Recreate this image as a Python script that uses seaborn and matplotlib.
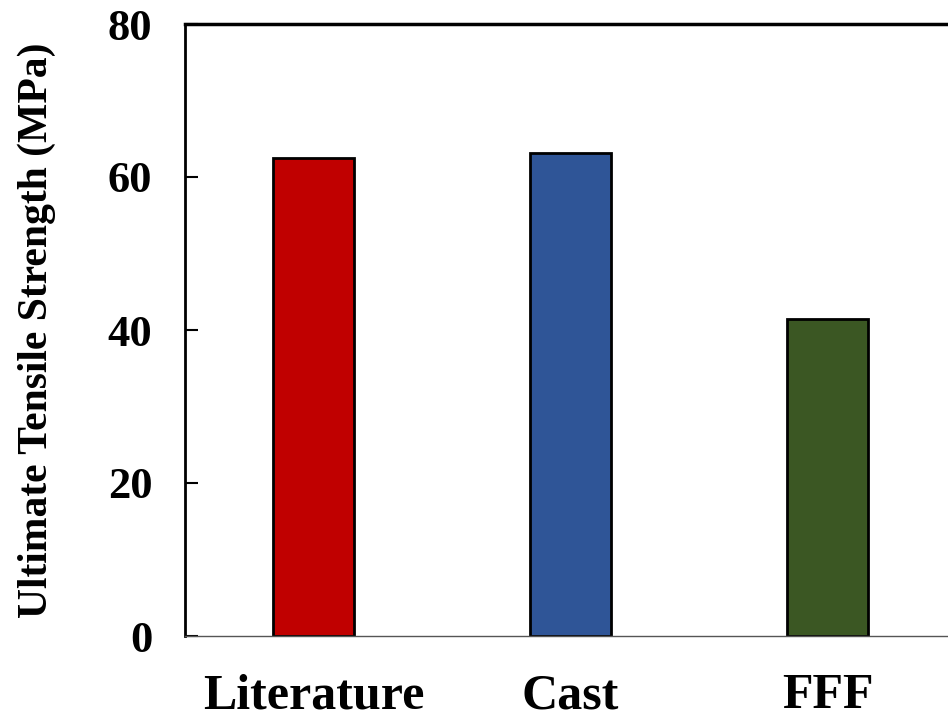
import matplotlib
matplotlib.use("Agg")
import matplotlib.pyplot as plt
import seaborn as sns
import pandas as pd

categories = ["Literature", "Cast", "FFF"]
uts_values = [62.5, 63.1, 41.4]
bar_colors = ["#C00000", "#2F5597", "#3B5723"]
y_ticks = [0, 20, 40, 60, 80]

sns.set_theme(style="white")
plt.rcParams['font.family'] = ['Liberation Serif', 'DejaVu Serif']
plt.rcParams['font.weight'] = 'bold'
plt.rcParams['text.color'] = 'black'
plt.rcParams['axes.labelcolor'] = 'black'
plt.rcParams['xtick.color'] = 'black'
plt.rcParams['ytick.color'] = 'black'

df = pd.DataFrame({"Sample": categories, "UTS": uts_values})

fig = plt.figure(figsize=(9.48, 7.21), dpi=100)
ax = fig.add_axes([185/948, 85/721, 771/948, 612/721])

sns.barplot(data=df, x="Sample", y="UTS", hue="Sample", palette=bar_colors,
            width=0.316, edgecolor="black", linewidth=2, legend=False, ax=ax,
            saturation=1)

ax.set_xlim(-0.5, 2.5)
ax.set_ylim(0, 80)
ax.set_yticks(y_ticks)
ax.set_yticklabels([str(v) for v in y_ticks], fontsize=32, fontweight='bold', color='black')
ax.set_xticks(range(len(categories)))
ax.set_xticklabels(categories, fontsize=36, fontweight='bold', color='black')
ax.set_xlabel("")
ax.set_ylabel("Ultimate Tensile Strength (MPa)", fontsize=30, fontweight='bold',
              labelpad=37, color='black')

ax.tick_params(axis='y', direction='in', length=9, width=1.5, color='black', pad=23.5, left=True)
ax.tick_params(axis='x', length=0, pad=27, bottom=False)

for side in ["left", "top"]:
    ax.spines[side].set_visible(True)
    ax.spines[side].set_color("black")
ax.spines["left"].set_linewidth(2)
ax.spines["top"].set_linewidth(2.5)
ax.spines["bottom"].set_color("#555555")
ax.spines["bottom"].set_linewidth(1)
ax.spines["right"].set_visible(False)

fig.savefig("out.png", dpi=100)
